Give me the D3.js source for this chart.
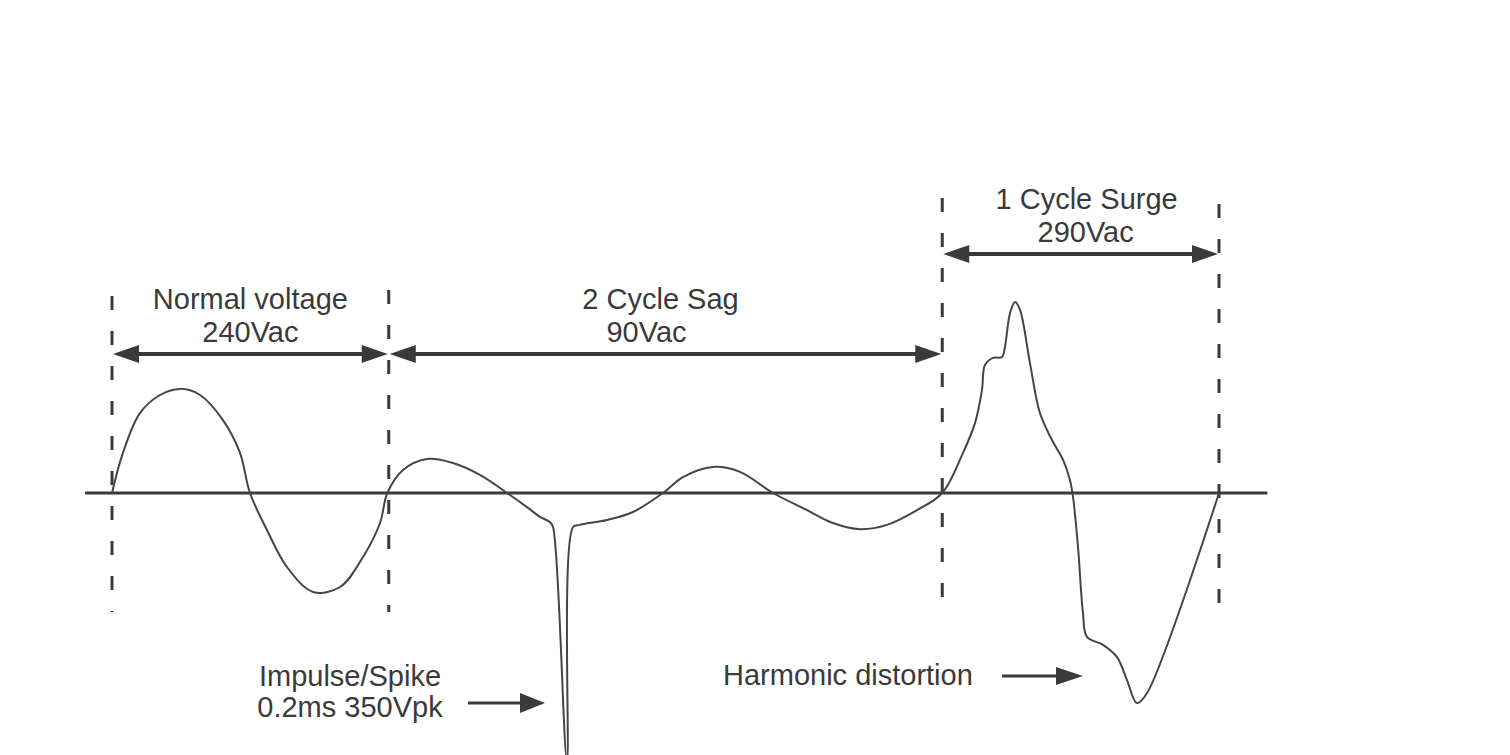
<!DOCTYPE html>
<html>
<head>
<meta charset="utf-8">
<script src="https://cdn.jsdelivr.net/npm/d3@7"></script>
<style>
  body { margin: 0; background: #fff; }
  svg { display: block; }
</style>
</head>
<body>
<div id="canvas"></div>
<script>
// waveform samples: time in ms, voltage in V
const normalT = [0, 0.79, 2.02, 3.47, 4.91, 6.36, 8.02, 9.25, 9.97, 11.2, 12.65, 14.53, 16.48, 18.14, 19.37, 19.9];
const normalV = [0, 131, 261, 320, 340, 320, 238, 131, 0, -121, -242, -323, -307, -209, -98, 0];

const sagT = [21.03, 22.76, 24.64, 26.59, 28.55, 29.99, 30.93, 31.65, 31.87, 32.88, 33.32, 33.82, 35.77, 37.65, 39.82,
              41.26, 43.43, 45.38, 47.77, 50.23, 52.1, 54.06, 56.01, 58.18, 60];
const sagV = [75, 111, 98, 59, 0, -46, -78, -95, -111, -875, -111, -104, -88, -62, 0,
              52, 85, 69, 0, -56, -98, -118, -104, -56, 0];

const surgeT = [61.5, 62.37, 62.87, 63.09, 63.67, 64.32, 64.53, 64.9, 65.26, 65.62, 66.34, 67.06, 67.93, 68.73, 69.23,
                69.45, 69.81, 70.17, 70.46, 71.62, 72.63, 73.35, 74.07, 74.8, 80];
const surgeV = [131, 229, 336, 418, 441, 444, 477, 588, 624, 598, 424, 261, 173, 108, 42,
                -13, -176, -392, -470, -496, -536, -611, -686, -653, 0];

// event boundaries (ms) and the labelled spans between them
const boundaries = [0, 20, 60, 80];
const spanStart = [0, 20, 60];
const spanEnd = [20, 60, 80];
const spanTitle = ["Normal voltage", "2 Cycle Sag", "1 Cycle Surge"];
const spanLevel = ["240Vac", "90Vac", "290Vac"];

const noteLines = [["Impulse/Spike", "0.2ms 350Vpk"], ["Harmonic distortion"]];

const width = 1510;
const height = 755;

const svg = d3.select("#canvas").append("svg")
  .attr("width", width)
  .attr("height", height);

const x = d3.scaleLinear().domain([0, 80]).range([112, 1219]);
const y = d3.scaleLinear().domain([-800, 800]).range([738, 248]);

const ink = "#3a3a3a";

// zero axis
svg.append("line")
  .attr("x1", x(-1.95)).attr("x2", x(83.5))
  .attr("y1", y(0)).attr("y2", y(0))
  .attr("stroke", ink)
  .attr("stroke-width", 3);

// dashed boundaries
const dashTop = [296, 290, 198, 204];
svg.append("g").selectAll("line")
  .data(boundaries)
  .join("line")
  .attr("x1", d => x(d)).attr("x2", d => x(d))
  .attr("y1", (d, i) => dashTop[i])
  .attr("y2", 612)
  .attr("stroke", ink)
  .attr("stroke-width", 3)
  .attr("stroke-dasharray", "14,21");

// waveform
const wave = normalT.map((t, i) => [t, normalV[i]])
  .concat(sagT.map((t, i) => [t, sagV[i]]))
  .concat(surgeT.map((t, i) => [t, surgeV[i]]));

svg.append("path")
  .datum(wave)
  .attr("fill", "none")
  .attr("stroke", "#454545")
  .attr("stroke-width", 2)
  .attr("stroke-linejoin", "round")
  .attr("d", d3.line()
    .x(d => x(d[0]))
    .y(d => y(d[1]))
    .curve(d3.curveCatmullRom.alpha(0.5)));

function head(g, tipX, tipY, dir, len, half) {
  g.append("path")
    .attr("d", `M${tipX},${tipY}L${tipX - dir * len},${tipY - half}L${tipX - dir * len},${tipY + half}Z`)
    .attr("fill", ink);
}

function arrow(g, x0, x1, yy, both, len, half, w) {
  g.append("line")
    .attr("x1", both ? x0 + len - 2 : x0).attr("x2", x1 - len + 2)
    .attr("y1", yy).attr("y2", yy)
    .attr("stroke", ink)
    .attr("stroke-width", w);
  head(g, x1, yy, 1, len, half);
  if (both) head(g, x0, yy, -1, len, half);
}

// span arrows and labels
const arrowY = [354, 354, 254];
const titleY = [309, 309, 209];
const titleDx = [0, -5, 6];
const levelDx = [0, -19, 5];
const ann = svg.append("g");
spanStart.forEach((s, i) => {
  const x0 = x(s), x1 = x(spanEnd[i]);
  arrow(ann, x0 + 1, x1 - 1, arrowY[i], true, 26, 9, 4);
  const cx = (x0 + x1) / 2;
  const lbl = ann.append("text")
    .attr("font-family", "Liberation Sans, Arial, sans-serif")
    .attr("font-size", 29)
    .attr("fill", ink)
    .attr("text-anchor", "middle");
  lbl.append("tspan").attr("x", cx + titleDx[i]).attr("y", titleY[i]).text(spanTitle[i]);
  lbl.append("tspan").attr("x", cx + levelDx[i]).attr("y", titleY[i] + 33).text(spanLevel[i]);
});

// notes below the axis
const note1 = ann.append("text")
  .attr("font-family", "Liberation Sans, Arial, sans-serif")
  .attr("font-size", 29)
  .attr("fill", ink)
  .attr("text-anchor", "middle");
note1.append("tspan").attr("x", 350).attr("y", 686).text(noteLines[0][0]);
note1.append("tspan").attr("x", 350).attr("y", 717).text(noteLines[0][1]);
arrow(ann, 468, 545, 703, false, 25, 10, 3);

ann.append("text")
  .attr("font-family", "Liberation Sans, Arial, sans-serif")
  .attr("font-size", 29)
  .attr("fill", ink)
  .attr("x", 723)
  .attr("y", 685)
  .text(noteLines[1][0]);
arrow(ann, 1002, 1083, 676, false, 27, 9, 3);
</script>
</body>
</html>
